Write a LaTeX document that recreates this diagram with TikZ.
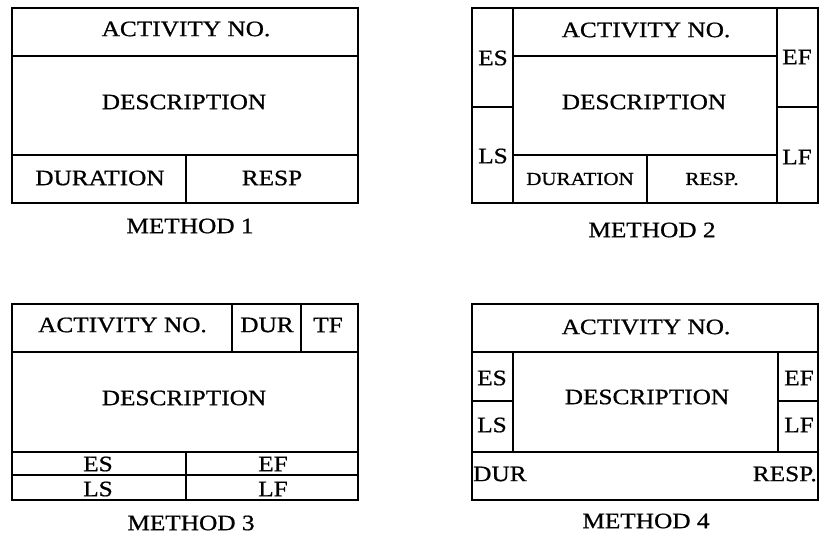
\documentclass[tikz,border=0pt]{standalone}
\usepackage{fontspec}
\setmainfont{Liberation Serif}[FakeStretch=1.15,FakeBold=0.8]
\begin{document}
\begin{tikzpicture}[x=1pt,y=-1pt,
  box/.style={draw=black,line width=1.6pt},
  txt/.style={inner sep=0pt,font=\fontsize{22}{24}\selectfont},
  stxt/.style={inner sep=0pt,font=\fontsize{18.3}{20}\selectfont},
  captxt/.style={inner sep=0pt,font=\fontsize{22}{24}\selectfont}]
\useasboundingbox (0,0) rectangle (823,536);
% ---------- METHOD 1
\draw[box] (12,8) rectangle (358,203);
\draw[box] (12,56) -- (358,56);
\draw[box] (12,155) -- (358,155);
\draw[box] (186,155) -- (186,203);
\node[txt] (a1) at (186,29) {ACTIVITY NO.};
\node[txt] (d1) at (184,102) {DESCRIPTION};
\node[txt] (du1) at (100,178) {DURATION};
\node[txt] (r1) at (272,178) {RESP};
\node[captxt] (m1) at (190,226) {METHOD 1};
% ---------- METHOD 2
\draw[box] (472,8) rectangle (818,203);
\draw[box] (513,8) -- (513,203);
\draw[box] (777,8) -- (777,203);
\draw[box] (513,56) -- (777,56);
\draw[box] (513,155) -- (777,155);
\draw[box] (472,107) -- (513,107);
\draw[box] (777,107) -- (818,107);
\draw[box] (647,155) -- (647,203);
\node[txt] (a2) at (646,30) {ACTIVITY NO.};
\node[txt] (es2) at (493,58) {ES};
\node[txt] (ls2) at (493,156) {LS};
\node[txt] (ef2) at (797,57) {EF};
\node[txt] (lf2) at (797,157) {LF};
\node[txt] (d2) at (644,102) {DESCRIPTION};
\node[stxt] (du2) at (580,179) {DURATION};
\node[stxt] (r2) at (712,179) {RESP.};
\node[captxt] (m2) at (652,230) {METHOD 2};
% ---------- METHOD 3
\draw[box] (12,304) rectangle (358,500);
\draw[box] (12,352) -- (358,352);
\draw[box] (12,452) -- (358,452);
\draw[box] (12,475) -- (358,475);
\draw[box] (232,304) -- (232,352);
\draw[box] (301,304) -- (301,352);
\draw[box] (186,452) -- (186,500);
\node[txt] (a3) at (122.5,325) {ACTIVITY NO.};
\node[txt] (dur3) at (267,325) {DUR};
\node[txt] (tf3) at (328,325) {TF};
\node[txt] (d3) at (184,398) {DESCRIPTION};
\node[txt] (es3) at (98,464) {ES};
\node[txt] (ef3) at (273,464) {EF};
\node[txt] (ls3) at (98,489) {LS};
\node[txt] (lf3) at (273,489) {LF};
\node[captxt] (m3) at (191,523) {METHOD 3};
% ---------- METHOD 4
\draw[box] (472,304) rectangle (818,500);
\draw[box] (472,352) -- (818,352);
\draw[box] (472,452) -- (818,452);
\draw[box] (513,352) -- (513,452);
\draw[box] (778,352) -- (778,452);
\draw[box] (472,401) -- (513,401);
\draw[box] (778,401) -- (818,401);
\node[txt] (a4) at (646,327) {ACTIVITY NO.};
\node[txt] (es4) at (492,378) {ES};
\node[txt] (ls4) at (492,425) {LS};
\node[txt] (ef4) at (799,378) {EF};
\node[txt] (lf4) at (799,425) {LF};
\node[txt] (d4) at (647,397) {DESCRIPTION};
\node[txt,anchor=west] (dur4) at (473,474) {DUR};
\node[txt,anchor=east] (r4) at (817,474) {RESP.};
\node[captxt] (m4) at (646,521) {METHOD 4};
\end{tikzpicture}
\end{document}
